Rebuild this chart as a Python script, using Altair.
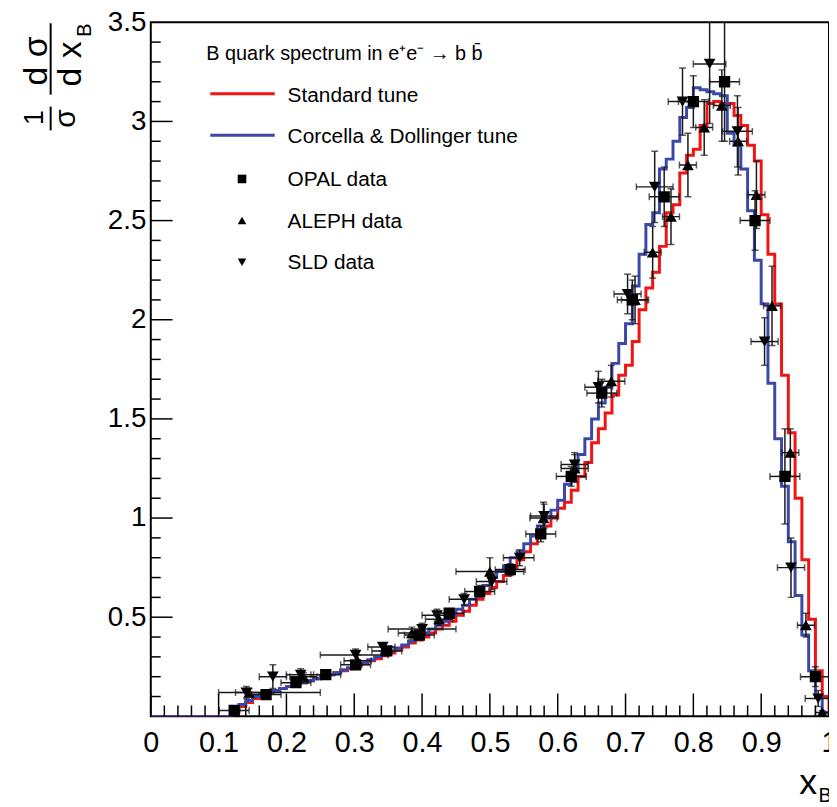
import altair as alt
import pandas as pd

# ---------------- data ----------------
# histograms: 100 bins of width 0.01 on [0, 1]
standard_tune = [
    0, 0, 0, 0, 0, 0, 0, 0, 0, 0,
    0, 0, 0.02, 0.05, 0.07, 0.09, 0.10, 0.12, 0.13, 0.14,
    0.15, 0.16, 0.17, 0.18, 0.19, 0.20, 0.21, 0.22, 0.23, 0.24,
    0.25, 0.265, 0.28, 0.29, 0.305, 0.32, 0.335, 0.35, 0.37, 0.385,
    0.40, 0.42, 0.44, 0.46, 0.48, 0.51, 0.53, 0.56, 0.59, 0.62,
    0.65, 0.68, 0.71, 0.75, 0.79, 0.83, 0.87, 0.91, 0.96, 1.00,
    1.05, 1.08, 1.14, 1.21, 1.28, 1.38, 1.45, 1.53, 1.62, 1.72,
    1.77, 1.89, 2.05, 2.16, 2.24, 2.37, 2.54, 2.58, 2.74, 2.83,
    2.86, 2.98, 3.09, 3.10, 3.09, 3.09, 3.03, 2.98, 2.88, 2.80,
    2.53, 2.33, 2.08, 1.72, 1.43, 1.10, 0.79, 0.49, 0.23, 0.10,
]
corcella_tune = [
    0, 0, 0, 0, 0, 0, 0, 0, 0, 0,
    0, 0, 0.03, 0.06, 0.08, 0.10, 0.11, 0.12, 0.13, 0.14,
    0.15, 0.16, 0.17, 0.18, 0.19, 0.20, 0.21, 0.22, 0.235, 0.245,
    0.26, 0.27, 0.285, 0.30, 0.315, 0.33, 0.345, 0.36, 0.38, 0.40,
    0.42, 0.44, 0.46, 0.48, 0.51, 0.54, 0.56, 0.59, 0.62, 0.66,
    0.70, 0.73, 0.76, 0.80, 0.83, 0.87, 0.91, 0.96, 1.00, 1.04,
    1.09, 1.17, 1.24, 1.32, 1.40, 1.50, 1.58, 1.66, 1.78, 1.88,
    1.98, 2.17, 2.33, 2.48, 2.54, 2.76, 2.81, 2.90, 3.02, 3.07,
    3.17, 3.16, 3.15, 3.14, 3.13, 2.94, 2.88, 2.76, 2.55, 2.30,
    2.08, 1.68, 1.40, 1.16, 0.88, 0.61, 0.41, 0.23, 0.10, 0.02,
]

opal_x = [0.123, 0.170, 0.214, 0.258, 0.302, 0.348, 0.396, 0.440, 0.485, 0.530,
          0.575, 0.620, 0.665, 0.710, 0.757, 0.800, 0.846, 0.891, 0.935, 0.980]
opal_y = [0.03, 0.11, 0.17, 0.21, 0.26, 0.33, 0.41, 0.52, 0.63, 0.74,
          0.92, 1.21, 1.63, 2.10, 2.62, 3.10, 3.20, 2.50, 1.21, 0.20]
opal_yerr = [0.01, 0.02, 0.02, 0.02, 0.02, 0.02, 0.02, 0.02, 0.03, 0.03,
             0.04, 0.05, 0.07, 0.10, 0.15, 0.13, 0.30, 0.15, 0.24, 0.05]
opal_xerr = [0.022] * 20

aleph_x = [0.145, 0.225, 0.305, 0.385, 0.425, 0.500, 0.579, 0.625, 0.679, 0.714,
           0.740, 0.767, 0.792, 0.816, 0.842, 0.866, 0.893, 0.916, 0.943, 0.966, 0.990]
aleph_y = [0.12, 0.20, 0.28, 0.42, 0.49, 0.73, 1.00, 1.25, 1.69, 2.10,
           2.34, 2.52, 2.78, 2.97, 3.08, 2.90, 2.63, 2.07, 1.33, 0.46, 0.02]
aleph_yerr = [0.02, 0.02, 0.03, 0.03, 0.03, 0.07, 0.08, 0.07, 0.08, 0.12,
              0.13, 0.14, 0.16, 0.14, 0.18, 0.17, 0.17, 0.20, 0.12, 0.06, 0.01]
aleph_xerr = [0.02, 0.02, 0.02, 0.02, 0.02, 0.05, 0.02, 0.02, 0.02, 0.02,
              0.0125, 0.0125, 0.0125, 0.0125, 0.0125, 0.0125, 0.0125, 0.0125, 0.0125, 0.0125, 0.01]

sld_x = [0.141, 0.180, 0.221, 0.302, 0.342, 0.400, 0.422, 0.462, 0.503, 0.544,
         0.580, 0.625, 0.660, 0.703, 0.743, 0.784, 0.824, 0.865, 0.905, 0.944, 0.984]
sld_y = [0.12, 0.20, 0.21, 0.31, 0.35, 0.44, 0.51, 0.59, 0.68, 0.80,
         1.01, 1.27, 1.66, 2.13, 2.67, 3.10, 3.29, 2.95, 1.89, 0.75, 0.09]
sld_yerr = [0.03, 0.06, 0.03, 0.03, 0.02, 0.03, 0.03, 0.03, 0.04, 0.04,
            0.06, 0.06, 0.08, 0.10, 0.18, 0.17, 0.30, 0.18, 0.12, 0.15, 0.04]
sld_xlo = [0.10, 0.16, 0.20, 0.25, 0.32, 0.35, 0.40, 0.44, 0.48, 0.52,
           0.56, 0.605, 0.64, 0.683, 0.716, 0.763, 0.80, 0.843, 0.885, 0.924, 0.965]
sld_xhi = [0.25, 0.20, 0.24, 0.35, 0.36, 0.45, 0.44, 0.48, 0.525, 0.565,
           0.60, 0.645, 0.68, 0.723, 0.77, 0.805, 0.848, 0.887, 0.925, 0.964, 1.0]

x_tick_labels = [0, 0.1, 0.2, 0.3, 0.4, 0.5, 0.6, 0.7, 0.8, 0.9, 1]
y_tick_labels = [0.5, 1, 1.5, 2, 2.5, 3, 3.5]

RED = "#f01414"
BLUE = "#3b48a8"
FONT = "Liberation Sans"
W, H = 684, 700

xs = alt.Scale(domain=[0, 1], nice=False, zero=False)
ys = alt.Scale(domain=[0, 3.5], nice=False, zero=False)

x_axis = alt.Axis(values=x_tick_labels, format="~g", ticks=False, domain=False, grid=False,
                  labelFontSize=29, labelFont=FONT, labelColor="black", labelPadding=12,
                  labelFlush=False, labelOverlap=False, title=None)
y_axis = alt.Axis(values=y_tick_labels, format="~g", ticks=False, domain=False, grid=False,
                  labelFontSize=28, labelFont=FONT, labelColor="black", labelPadding=5,
                  labelOverlap=False, title=None)


def X(field):
    return alt.X(field, scale=xs, axis=x_axis)


def Y(field):
    return alt.Y(field, scale=ys, axis=y_axis)


def hist_df(vals):
    rows = [{"x": i / 100, "y": vals[min(i, 99)], "o": i} for i in range(101)]
    rows.append({"x": 1.0, "y": 0.0, "o": 101})
    return pd.DataFrame(rows)


red = alt.Chart(hist_df(standard_tune)).mark_line(
    interpolate="step-after", color=RED, strokeWidth=3, clip=True
).encode(x=X("x:Q"), y=Y("y:Q"), order="o:Q")
blue = alt.Chart(hist_df(corcella_tune)).mark_line(
    interpolate="step-after", color=BLUE, strokeWidth=3, clip=True
).encode(x=X("x:Q"), y=Y("y:Q"), order="o:Q")


def series_df(xv, yv, yerr, xlo, xhi):
    return pd.DataFrame({
        "x": xv, "y": yv,
        "ylo": [a - b for a, b in zip(yv, yerr)],
        "yhi": [a + b for a, b in zip(yv, yerr)],
        "xlo": xlo, "xhi": xhi,
    })


opal = series_df(opal_x, opal_y, opal_yerr,
                 [a - b for a, b in zip(opal_x, opal_xerr)],
                 [a + b for a, b in zip(opal_x, opal_xerr)])
aleph = series_df(aleph_x, aleph_y, aleph_yerr,
                  [a - b for a, b in zip(aleph_x, aleph_xerr)],
                  [a + b for a, b in zip(aleph_x, aleph_xerr)])
sld = series_df(sld_x, sld_y, sld_yerr, sld_xlo, sld_xhi)

EB = "#1a1a1a"


def data_layers(df, shape, size):
    base = alt.Chart(df)
    vbar = base.mark_rule(color=EB, strokeWidth=1.5, clip=True).encode(
        x=X("x:Q"), y=Y("ylo:Q"), y2="yhi:Q")
    hbar = base.mark_rule(color=EB, strokeWidth=1.5, clip=True).encode(
        x=X("xlo:Q"), x2="xhi:Q", y=Y("y:Q"))
    cap_lo = base.mark_tick(color=EB, size=7, thickness=1.5, orient="horizontal", clip=True).encode(
        x=X("x:Q"), y=Y("ylo:Q"))
    cap_hi = base.mark_tick(color=EB, size=7, thickness=1.5, orient="horizontal", clip=True).encode(
        x=X("x:Q"), y=Y("yhi:Q"))
    cap_l = base.mark_tick(color=EB, size=7, thickness=1.5, orient="vertical", clip=True).encode(
        x=X("xlo:Q"), y=Y("y:Q"))
    cap_r = base.mark_tick(color=EB, size=7, thickness=1.5, orient="vertical", clip=True).encode(
        x=X("xhi:Q"), y=Y("y:Q"))
    pts = base.mark_point(shape=shape, filled=True, color="black", size=size, opacity=1, clip=True).encode(
        x=X("x:Q"), y=Y("y:Q"))
    return [vbar, hbar, cap_lo, cap_hi, cap_l, cap_r, pts]


# ---------------- inner ticks (ROOT style) ----------------
x_major = x_tick_labels
x_minor = [round(k * 0.02, 2) for k in range(51) if k % 5 != 0]
y_major = [0.5, 1, 1.5, 2, 2.5, 3]
y_minor = [round(k * 0.1, 1) for k in range(1, 35) if k % 5 != 0]

tick_layers = [
    alt.Chart(pd.DataFrame({"t": x_major})).mark_rule(color="black", strokeWidth=1.5).encode(
        x=X("t:Q"), y=alt.value(H), y2=alt.value(H - 23)),
    alt.Chart(pd.DataFrame({"t": x_minor})).mark_rule(color="black", strokeWidth=1.5).encode(
        x=X("t:Q"), y=alt.value(H), y2=alt.value(H - 11)),
    alt.Chart(pd.DataFrame({"t": y_major})).mark_rule(color="black", strokeWidth=1.5).encode(
        y=Y("t:Q"), x=alt.value(0), x2=alt.value(22)),
    alt.Chart(pd.DataFrame({"t": y_minor})).mark_rule(color="black", strokeWidth=1.5).encode(
        y=Y("t:Q"), x=alt.value(0), x2=alt.value(10)),
]

# ---------------- legend (drawn by hand) ----------------
OX, OY = 152, 19  # page position of the plot origin
legend_text = pd.DataFrame({
    "label": ["B quark spectrum in e\u207ae\u207b \u2192 b b\u0304", "Standard tune",
              "Corcella & Dollinger tune", "OPAL data", "ALEPH data", "SLD data"],
    "px": [208 - OX, 290 - OX, 290 - OX, 290 - OX, 290 - OX, 290 - OX],
    "py": [57 - OY, 99 - OY, 141 - OY, 184 - OY, 226 - OY, 268 - OY],
    "fs": [20, 21, 21, 21, 21, 21],
})
legend_text_layer = alt.Chart(legend_text).mark_text(
    align="left", baseline="alphabetic", font=FONT, color="black"
).encode(x=alt.X("px:Q", scale=None), y=alt.Y("py:Q", scale=None), text="label:N",
         size=alt.Size("fs:Q", scale=None))

legend_lines = pd.DataFrame({
    "x1": [212 - OX, 212 - OX], "x2": [277 - OX, 277 - OX],
    "yy": [91 - OY, 133 - OY], "c": [RED, BLUE],
})
legend_line_layer = alt.Chart(legend_lines).mark_rule(strokeWidth=3).encode(
    x=alt.X("x1:Q", scale=None), x2="x2:Q", y=alt.Y("yy:Q", scale=None),
    color=alt.Color("c:N", scale=None))

legend_marks = pd.DataFrame({
    "px": [244 - OX, 244 - OX, 244 - OX],
    "py": [177 - OY, 219 - OY, 261 - OY],
    "s": ["square", "triangle-up", "triangle-down"],
})
legend_mark_layer = alt.Chart(legend_marks).mark_point(filled=True, color="black", size=75, opacity=1).encode(
    x=alt.X("px:Q", scale=None), y=alt.Y("py:Q", scale=None),
    shape=alt.Shape("s:N", scale=None))

# ---------------- axis titles ----------------
ytitle = pd.DataFrame({
    "t": ["1", "\u03c3", "d \u03c3", "d x", "B"],
    "px": [43 - OX, 76 - OX, 47 - OX, 82 - OX, 92 - OX],
    "py": [115 - OY, 116 - OY, 58 - OY, 61 - OY, 27 - OY],
    "fs": [27, 30, 34, 34, 20],
})
ytitle_layer = alt.Chart(ytitle).mark_text(
    align="center", baseline="alphabetic", font=FONT, angle=270, color="black"
).encode(x=alt.X("px:Q", scale=None), y=alt.Y("py:Q", scale=None), text="t:N",
         size=alt.Size("fs:Q", scale=None))

frac_bars = pd.DataFrame({
    "xx": [51 - OX, 51 - OX], "y1": [104 - OY, 20 - OY], "y2": [128 - OY, 92 - OY],
})
frac_layer = alt.Chart(frac_bars).mark_rule(color="black", strokeWidth=2).encode(
    x=alt.X("xx:Q", scale=None), y=alt.Y("y1:Q", scale=None), y2="y2:Q")

xtitle = pd.DataFrame({
    "t": ["x", "B"],
    "px": [815 - OX, 832 - OX],
    "py": [797 - OY, 805 - OY],
    "fs": [36, 20],
})
xtitle_layer = alt.Chart(xtitle).mark_text(
    align="center", baseline="alphabetic", font=FONT, color="black"
).encode(x=alt.X("px:Q", scale=None), y=alt.Y("py:Q", scale=None), text="t:N",
         size=alt.Size("fs:Q", scale=None))

layers = [red, blue]
layers += data_layers(aleph, "triangle-up", 140)
layers += data_layers(sld, "triangle-down", 140)
layers += data_layers(opal, "square", 130)
layers += tick_layers
layers += [legend_line_layer, legend_mark_layer, legend_text_layer,
           ytitle_layer, frac_layer, xtitle_layer]

chart = alt.layer(*layers).properties(
    width=W, height=H,
    autosize=alt.AutoSizeParams(type="none"),
    padding={"left": OX - 8, "top": OY - 8, "right": 0, "bottom": 87},
    background="white",
).configure_view(stroke="black", strokeWidth=2)

chart.save("out.html", embed_options={"renderer": "svg", "actions": False})
